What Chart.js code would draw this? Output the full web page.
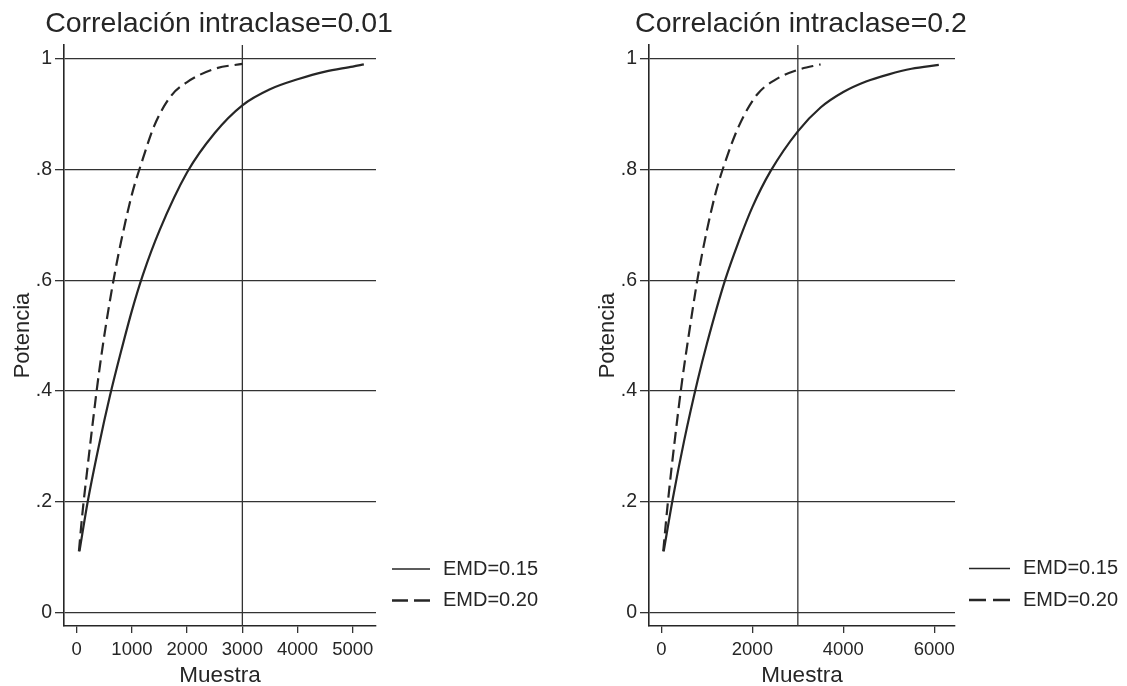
<!DOCTYPE html>
<html lang="es">
<head>
<meta charset="utf-8">
<title>Potencia según tamaño de muestra</title>
<script src="https://cdn.jsdelivr.net/npm/chart.js@4.4.1/dist/chart.umd.min.js"></script>
<style>
  html, body { margin: 0; padding: 0; background: #fff; }
  .panel { position: absolute; top: 0; height: 686px; }
  #panelIzq { left: 0; width: 563px; }
  #panelDer { left: 585px; width: 542px; }
</style>
</head>
<body>
<div class="panel" id="panelIzq"><canvas id="graficoIcc001"></canvas></div>
<div class="panel" id="panelDer"><canvas id="graficoIcc02"></canvas></div>
<script>
const titulos = ["Correlación intraclase=0.01", "Correlación intraclase=0.2"];
const etiquetasSeries = ["EMD=0.15", "EMD=0.20"];
const lineaReferencia = 3000;

const yTicks = [0, 0.2, 0.4, 0.6, 0.8, 1];
const yTickLabels = ["0", ".2", ".4", ".6", ".8", "1"];
const xTicksIzq = [0, 1000, 2000, 3000, 4000, 5000];
const xTicksDer = [0, 2000, 4000, 6000];

// correlacion intraclase 0.01
const muestraIzq015 = [50, 200, 400, 600, 800, 1000, 1200, 1500, 2000, 2500, 3000, 3500, 4000, 4500, 5000, 5200];
const potenciaIzq015 = [0.11, 0.2, 0.3, 0.39, 0.47, 0.545, 0.61, 0.69, 0.795, 0.866, 0.916, 0.945, 0.963, 0.977, 0.986, 0.99];
const muestraIzq020 = [40, 100, 200, 300, 400, 500, 600, 700, 800, 1000, 1200, 1400, 1700, 2000, 2500, 3000];
const potenciaIzq020 = [0.11, 0.175, 0.265, 0.35, 0.43, 0.5, 0.562, 0.618, 0.668, 0.755, 0.82, 0.878, 0.932, 0.958, 0.982, 0.991];

// correlacion intraclase 0.2
const muestraDer015 = [50, 250, 500, 800, 1000, 1400, 1700, 2000, 2400, 3000, 3500, 4000, 4500, 5000, 5500, 6100];
const potenciaDer015 = [0.11, 0.205, 0.31, 0.42, 0.485, 0.6, 0.67, 0.732, 0.797, 0.869, 0.912, 0.94, 0.959, 0.972, 0.982, 0.989];
const muestraDer020 = [40, 150, 300, 450, 600, 800, 1000, 1200, 1400, 1700, 2100, 2500, 3000, 3500];
const potenciaDer020 = [0.11, 0.205, 0.315, 0.415, 0.5, 0.605, 0.69, 0.76, 0.813, 0.878, 0.935, 0.962, 0.98, 0.99];

const colorTexto = "#262626";
const colorLinea = "#262626";
const colorRejilla = "#333333";

Chart.defaults.font.family = '"Liberation Sans", Arial, Helvetica, sans-serif';
Chart.defaults.color = colorTexto;

// titulo centrado sobre el area del grafico, sin comprimir el texto
const tituloPanel = {
    id: "tituloPanel",
    afterDraw(chart, args, opts) {
        const { ctx, chartArea } = chart;
        ctx.save();
        ctx.fillStyle = colorTexto;
        ctx.font = '28.5px "Liberation Sans", Arial, sans-serif';
        ctx.textAlign = "center";
        ctx.textBaseline = "middle";
        ctx.fillText(opts.texto, (chartArea.left + chartArea.right) / 2 + opts.dx, opts.y);
        ctx.restore();
    }
};

const lineaVertical = {
    id: "lineaVertical",
    beforeDatasetsDraw(chart, args, opts) {
        const { ctx, chartArea, scales } = chart;
        const x = scales.x.getPixelForValue(opts.valor);
        ctx.save();
        ctx.strokeStyle = colorRejilla;
        ctx.lineWidth = 1.3;
        ctx.beginPath();
        ctx.moveTo(x, chartArea.top);
        ctx.lineTo(x, chartArea.bottom);
        ctx.stroke();
        ctx.restore();
    }
};

const leyendaLateral = {
    id: "leyendaLateral",
    afterDraw(chart, args, opts) {
        const ctx = chart.ctx;
        ctx.save();
        chart.data.datasets.forEach((ds, i) => {
            const y = opts.y[i];
            ctx.strokeStyle = ds.borderColor;
            ctx.lineWidth = i === 0 ? 1.4 : 2.6;
            ctx.setLineDash(ds.borderDash.length ? opts.guion : []);
            ctx.beginPath();
            ctx.moveTo(opts.x0, y);
            ctx.lineTo(opts.x1, y);
            ctx.stroke();
            ctx.setLineDash([]);
            ctx.fillStyle = colorTexto;
            ctx.font = '20px "Liberation Sans", Arial, sans-serif';
            ctx.textBaseline = "middle";
            ctx.textAlign = "left";
            ctx.fillText(ds.label, opts.xTexto, y);
        });
        ctx.restore();
    }
};

function serie(xs, ys) {
    return xs.map((x, i) => ({ x: x, y: ys[i] }));
}

function crearGrafico(id, titulo, series, xTicks, xMin, xMax, margenDer, leyenda) {
    const ctx = document.getElementById(id).getContext("2d");

    new Chart(ctx, {
        type: "line",

        data: {
            datasets: [{
                label: etiquetasSeries[0],
                data: serie(series[0], series[1]),
                borderColor: colorLinea,
                borderWidth: 2.2,
                borderDash: [],
                pointRadius: 0,
                cubicInterpolationMode: "monotone"
            }, {
                label: etiquetasSeries[1],
                data: serie(series[2], series[3]),
                borderColor: colorLinea,
                borderWidth: 2.2,
                borderDash: [12, 6],
                pointRadius: 0,
                cubicInterpolationMode: "monotone"
            }]
        },

        options: {
            responsive: true,
            maintainAspectRatio: false,
            animation: false,
            events: [],
            layout: {
                padding: { left: 0, right: margenDer, top: 45, bottom: 0 }
            },

            plugins: {
                legend: { display: false },
                tooltip: { enabled: false },
                title: { display: false },
                tituloPanel: { texto: titulo, y: 24, dx: -1 },
                lineaVertical: { valor: lineaReferencia },
                leyendaLateral: leyenda
            },

            scales: {
                x: {
                    type: "linear",
                    min: xMin,
                    max: xMax,
                    afterBuildTicks: s => { s.ticks = xTicks.map(v => ({ value: v })); },
                    afterFit: s => { s.height = 60; },
                    ticks: {
                        color: colorTexto,
                        font: { size: 18.5 },
                        padding: 6,
                        maxRotation: 0,
                        autoSkip: false,
                        callback: v => String(v)
                    },
                    grid: {
                        drawOnChartArea: false,
                        tickLength: 7,
                        tickColor: colorRejilla,
                        lineWidth: 1.3
                    },
                    border: { display: true, color: colorTexto, width: 1.6 },
                    title: {
                        display: true,
                        text: "Muestra",
                        color: colorTexto,
                        font: { size: 22.5, lineHeight: 1 },
                        padding: { top: 0, bottom: -1 }
                    }
                },

                y: {
                    type: "linear",
                    min: -0.025,
                    max: 1.025,
                    afterBuildTicks: s => { s.ticks = yTicks.map(v => ({ value: v })); },
                    afterFit: s => { s.width = 64; },
                    ticks: {
                        color: colorTexto,
                        font: { size: 19.5 },
                        padding: 3,
                        callback: v => yTickLabels[yTicks.indexOf(v)]
                    },
                    grid: {
                        color: colorRejilla,
                        lineWidth: 1.3,
                        tickLength: 9
                    },
                    border: { display: true, color: colorTexto, width: 1.6 },
                    title: {
                        display: true,
                        text: "Potencia",
                        color: colorTexto,
                        font: { size: 22, lineHeight: 1 },
                        padding: { top: 11.5, bottom: 0 }
                    }
                }
            }
        },

        plugins: [tituloPanel, lineaVertical, leyendaLateral]
    });
}

crearGrafico(
    "graficoIcc001", titulos[0],
    [muestraIzq015, potenciaIzq015, muestraIzq020, potenciaIzq020],
    xTicksIzq, -230, 5420, 187,
    { x0: 392, x1: 430, xTexto: 443, y: [569, 600.5], guion: [16, 6] }
);

crearGrafico(
    "graficoIcc02", titulos[1],
    [muestraDer015, potenciaDer015, muestraDer020, potenciaDer020],
    xTicksDer, -273, 6456, 172,
    { x0: 384, x1: 425, xTexto: 438, y: [568.5, 600], guion: [17, 7] }
);
</script>
</body>
</html>
